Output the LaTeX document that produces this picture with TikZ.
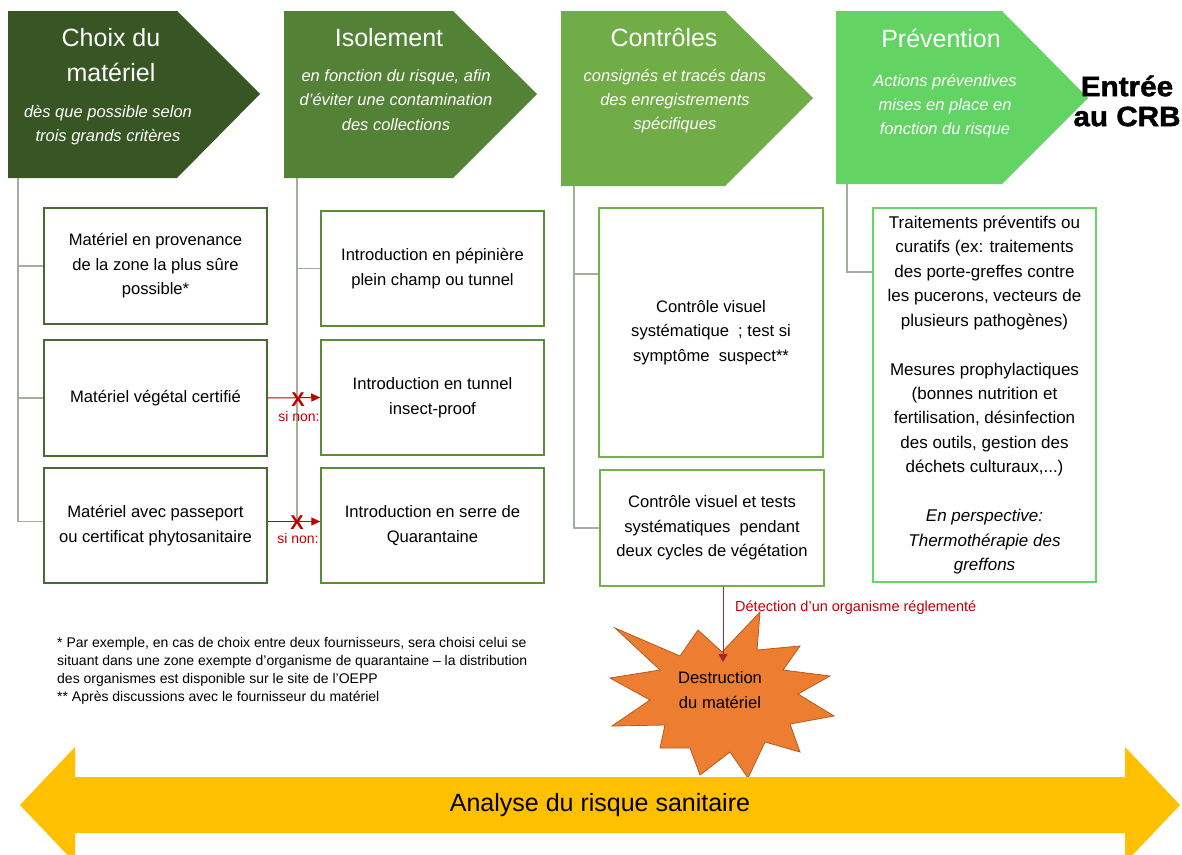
\documentclass[tikz,border=0pt]{standalone}
\usepackage{fontspec}
\setmainfont{Liberation Sans}
\newfontfamily\crbfont[FakeBold=1.5, FakeStretch=1.06]{Liberation Sans Bold}
\usetikzlibrary{arrows.meta}
\definecolor{hA}{HTML}{375623}
\definecolor{hB}{HTML}{538135}
\definecolor{hC}{HTML}{70AD47}
\definecolor{hD}{HTML}{63D463}
\definecolor{bA}{HTML}{456B30}
\definecolor{bB}{HTML}{5A8C3A}
\definecolor{bC}{HTML}{74B04C}
\definecolor{bD}{HTML}{66D466}
\definecolor{conn}{HTML}{A3AE9C}
\definecolor{redx}{HTML}{C00000}
\definecolor{darkred}{HTML}{9E2A2F}
\definecolor{starfill}{HTML}{ED7D31}
\definecolor{starline}{HTML}{B85A1E}
\definecolor{gold}{HTML}{FFC000}
\tikzset{
  headtitle/.style={text=white, align=center, inner sep=0pt, font=\fontsize{25}{35}\selectfont},
  headsub/.style={text=white, align=center, inner sep=0pt, font=\fontsize{16.5}{24.2}\selectfont\itshape},
  boxbase/.style={draw, line width=1.5pt, fill=white, inner sep=0pt, align=center, font=\fontsize{16.6}{24.5}\selectfont},
  boxA/.style={boxbase, draw=bA},
  boxB/.style={boxbase, draw=bB},
  boxC/.style={boxbase, draw=bC},
  boxD/.style={boxbase, draw=bD, font=\fontsize{17}{24.45}\selectfont},
  link/.style={draw=conn, line width=1.5pt},
  redarrow/.style={draw=redx, line width=1pt, -{Triangle[length=9pt,width=8pt]}},
  xmark/.style={text=redx, font=\fontsize{20}{20}\selectfont\bfseries, inner sep=0pt},
  sinon/.style={text=redx, font=\fontsize{14}{14}\selectfont, inner sep=0pt},
}
\begin{document}
\begin{tikzpicture}[x=1pt,y=-1pt]
\useasboundingbox (0,0) rectangle (1182,854);

% header chevrons
\fill[hA] (8,11) -- (177,11) -- (260,94) -- (177,178) -- (8,178) -- cycle;
\fill[hB] (284,11) -- (453,11) -- (537,94) -- (453,178) -- (284,178) -- cycle;
\fill[hC] (561,11) -- (725,11) -- (813,98) -- (725,186) -- (561,186) -- cycle;
\fill[hD] (836,11) -- (1002,11) -- (1088,98) -- (1002,184) -- (836,184) -- cycle;

\node[headtitle] (t1) at (111,55) {Choix du\\matériel};
\node[headsub] (s1) at (108,125) {dès que possible selon\\trois grands critères};
\node[headtitle] (t2) at (389,38) {Isolement};
\node[headsub] (s2) at (396,100) {en fonction du risque, afin\\d’éviter une contamination\\des collections};
\node[headtitle] (t3) at (664,38) {Contrôles};
\node[headsub] (s3) at (675,101) {consignés et tracés dans\\des enregistrements\\spécifiques};
\node[headtitle] (t4) at (941,38) {Prévention};
\node[headsub] (s4) at (945,106) {Actions préventives\\mises en place en\\fonction du risque};

\node[inner sep=0pt, align=center, font=\fontsize{28}{30}\crbfont] (crb) at (1127,101) {Entrée\\au CRB};

% boxes
\node[boxA, minimum width=223pt, minimum height=116pt] (a1) at (155.5,266) {Matériel en provenance\\de la zone la plus sûre\\possible*};
\node[boxA, minimum width=223pt, minimum height=116pt] (a2) at (155.5,398) {Matériel végétal certifié};
\node[boxA, minimum width=223pt, minimum height=115pt] (a3) at (155.5,525.5) {Matériel avec passeport\\ou certificat phytosanitaire};

\node[boxB, minimum width=223pt, minimum height=115pt] (b1) at (432.5,268.5) {Introduction en pépinière\\plein champ ou tunnel};
\node[boxB, minimum width=223pt, minimum height=115pt] (b2) at (432.5,397.5) {Introduction en tunnel\\insect-proof};
\node[boxB, minimum width=223pt, minimum height=115pt] (b3) at (432.5,525.5) {Introduction en serre de\\Quarantaine};

\node[boxC, minimum width=224pt, minimum height=249pt] (c1) at (711,332.5) {Contrôle visuel\\systématique\ \ ; test si\\symptôme\ \ suspect**};
\node[boxC, minimum width=224pt, minimum height=116pt] (c2) at (712,528) {Contrôle visuel et tests\\systématiques\ \ pendant\\deux cycles de végétation};

\node[boxD, minimum width=223pt, minimum height=374pt] (d1) at (984.5,395) {Traitements préventifs ou\\curatifs (ex: traitements\\des porte-greffes contre\\les pucerons, vecteurs de\\plusieurs pathogènes)\\[24.45pt]Mesures prophylactiques\\(bonnes nutrition et\\fertilisation, désinfection\\des outils, gestion des\\déchets culturaux,...)\\[24.45pt]\textit{En perspective:}\\\textit{Thermothérapie des}\\\textit{greffons}};

% connector spines
\coordinate (pA) at (18,178);
\coordinate (pB) at (297,178);
\coordinate (pC) at (574,186);
\coordinate (pD) at (847,184);

\draw[link] (pA) |- (a1.west);
\draw[link] (pA) |- (a2.west);
\draw[link] (pA) |- ([yshift=4pt]a3.west);
\draw[link] (pB) |- (b1.west);
\draw[link] (pB) |- (b2.west);
\draw[link] (pB) |- ([yshift=4pt]b3.west);
\draw[link] (pC) |- (c1.west |- 0,274);
\draw[link] (pC) |- (c2.west);
\draw[link] (pD) |- (d1.west |- 0,272);

% red "si non" arrows
\draw[redarrow] (a2.east) -- (b2.west);
\draw[redarrow] ([yshift=4pt]a3.east) -- ([yshift=4pt]b3.west);
\node[xmark] (x1) at (298,400) {X};
\node[sinon] (n1) at (299,416) {si non:};
\node[xmark] (x2) at (297,523) {X};
\node[sinon] (n2) at (298,538) {si non:};

% destruction star
\filldraw[fill=starfill, draw=starline, line width=0.8pt]
  (615,628) -- (680,656) -- (698,630) -- (722,652) -- (760,612) -- (757,650)
  -- (800,646) -- (783,670) -- (830,676) -- (798,694) -- (834,716) -- (790,724)
  -- (800,752) -- (765,742) -- (748,778) -- (730,752) -- (700,775) -- (690,748)
  -- (660,748) -- (665,725) -- (612,726) -- (650,700) -- (610,678) -- (660,670) -- cycle;
\node[inner sep=0pt, align=center, font=\fontsize{16.6}{24.5}\selectfont] (dest) at (720,690) {Destruction\\du matériel};
\coordinate (startip) at (723,662);
\draw[draw=darkred, line width=1pt, -{Triangle[length=8pt,width=9pt]}] (c2.south -| startip) -- (startip);
\node[anchor=west, inner sep=0pt, text=redx, font=\fontsize{14.5}{14.5}\selectfont] (det) at (735,608) {Détection d’un organisme réglementé};

% footnote
\node[anchor=north west, inner sep=0pt, align=left, font=\fontsize{14}{18}\selectfont] (fn) at (57,637) {* Par exemple, en cas de choix entre deux fournisseurs, sera choisi celui se\\situant dans une zone exempte d’organisme de quarantaine – la distribution\\des organismes est disponible sur le site de l’OEPP\\** Après discussions avec le fournisseur du matériel};

% bottom double arrow
\fill[gold] (20,805) -- (75,747) -- (75,777) -- (1125,777) -- (1125,747) -- (1180,805)
  -- (1125,863) -- (1125,833) -- (75,833) -- (75,863) -- cycle;
\node[inner sep=0pt, font=\fontsize{25}{25}\selectfont] (ars) at (600,805) {Analyse du risque sanitaire};
\end{tikzpicture}
\end{document}
